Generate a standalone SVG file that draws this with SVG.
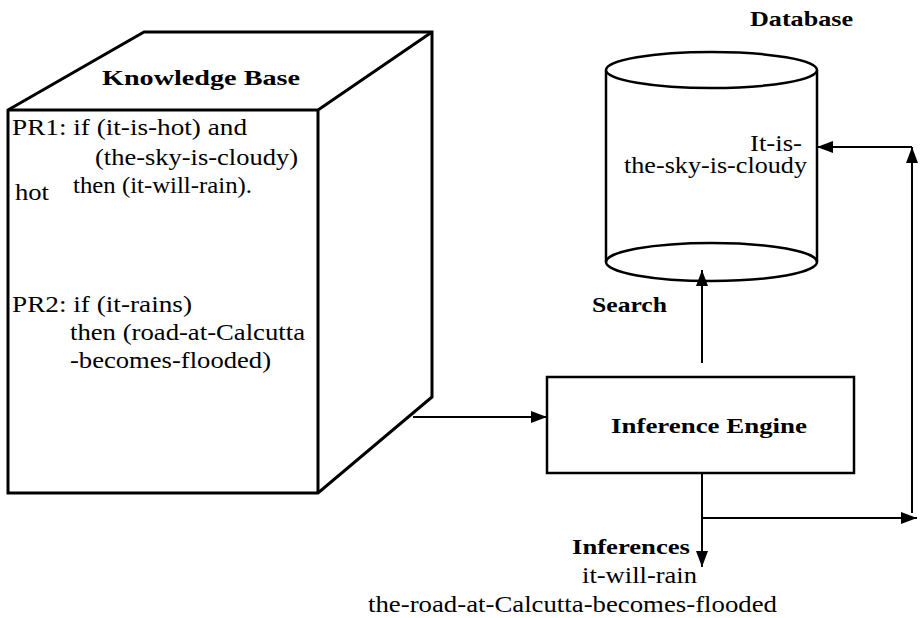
<svg xmlns="http://www.w3.org/2000/svg" width="922" height="618" viewBox="0 0 922 618">
<style>
.t{font-size:23px}
.b{font-size:22px;font-weight:bold}
.shape{fill:#fff;stroke:#000}
.conn{fill:none;stroke:#000;stroke-width:2}
</style>
<defs>
<marker id="ah" viewBox="0 0 16 12" refX="16" refY="6" markerWidth="16" markerHeight="12" markerUnits="userSpaceOnUse" orient="auto">
<path d="M0,0 L16,6 L0,12 Z" fill="#000"/>
</marker>
</defs>
<rect width="922" height="618" fill="#fff"/>
<g font-family="Liberation Serif, Times New Roman, Tinos, Times, Nimbus Roman, FreeSerif, DejaVu Serif, serif" fill="#000">
<g id="knowledge-base">
<path class="shape" stroke-width="3" d="M8,110 L144,32 L432,32 L432,397 L318,493 L8,493 Z"/>
<path fill="none" stroke="#000" stroke-width="3" d="M8,110 L318,110 L432,32 M318,110 L318,493"/>
<text class="b" x="102" y="85" textLength="198" lengthAdjust="spacingAndGlyphs">Knowledge  Base</text>
<text class="t" x="12" y="135" textLength="235" lengthAdjust="spacingAndGlyphs">PR1: if (it-is-hot) and</text>
<text class="t" x="95" y="165" textLength="203" lengthAdjust="spacingAndGlyphs">(the-sky-is-cloudy)</text>
<text class="t" x="73" y="193" textLength="179" lengthAdjust="spacingAndGlyphs">then (it-will-rain).</text>
<text class="t" x="15" y="200" textLength="34" lengthAdjust="spacingAndGlyphs">hot</text>
<text class="t" x="12" y="312" textLength="180" lengthAdjust="spacingAndGlyphs">PR2: if (it-rains)</text>
<text class="t" x="70" y="340" textLength="235" lengthAdjust="spacingAndGlyphs">then (road-at-Calcutta</text>
<text class="t" x="70" y="368" textLength="201" lengthAdjust="spacingAndGlyphs">-becomes-flooded)</text>
</g>
<g id="database">
<text class="b" x="750" y="26" textLength="103" lengthAdjust="spacingAndGlyphs">Database</text>
<path class="shape" stroke-width="2.5" d="M606,70 L606,262 A105.5,19 0 0 0 817,262 L817,70"/>
<ellipse class="shape" stroke-width="2.5" cx="711.5" cy="70" rx="105.5" ry="18"/>
<path fill="none" stroke="#000" stroke-width="2.5" d="M606,262 A105.5,19 0 0 1 817,262"/>
<text class="t" x="750" y="151" textLength="52" lengthAdjust="spacingAndGlyphs">It-is-</text>
<text class="t" x="624" y="173" textLength="183" lengthAdjust="spacingAndGlyphs">the-sky-is-cloudy</text>
</g>
<g id="inference-engine">
<rect class="shape" stroke-width="2.5" x="547" y="377" width="307" height="96"/>
<text class="b" x="611" y="433" textLength="196" lengthAdjust="spacingAndGlyphs">Inference Engine</text>
</g>
<g id="connectors">
<line class="conn" x1="413" y1="417" x2="547" y2="417" marker-end="url(#ah)"/>
<line class="conn" x1="702" y1="363" x2="702" y2="270" marker-end="url(#ah)"/>
<line class="conn" x1="702" y1="473" x2="702" y2="567" marker-end="url(#ah)"/>
<line class="conn" x1="702" y1="518" x2="917" y2="518" marker-end="url(#ah)"/>
<line class="conn" x1="912" y1="513" x2="912" y2="147" marker-end="url(#ah)"/>
<line class="conn" x1="912" y1="147" x2="817" y2="147" marker-end="url(#ah)"/>
</g>
<g id="labels">
<text class="b" x="592" y="312" textLength="75" lengthAdjust="spacingAndGlyphs">Search</text>
<text class="b" x="572" y="554" textLength="118" lengthAdjust="spacingAndGlyphs">Inferences</text>
<text class="t" x="582" y="583" textLength="115" lengthAdjust="spacingAndGlyphs">it-will-rain</text>
<text class="t" x="368" y="612" textLength="409" lengthAdjust="spacingAndGlyphs">the-road-at-Calcutta-becomes-flooded</text>
</g>
</g>
</svg>
